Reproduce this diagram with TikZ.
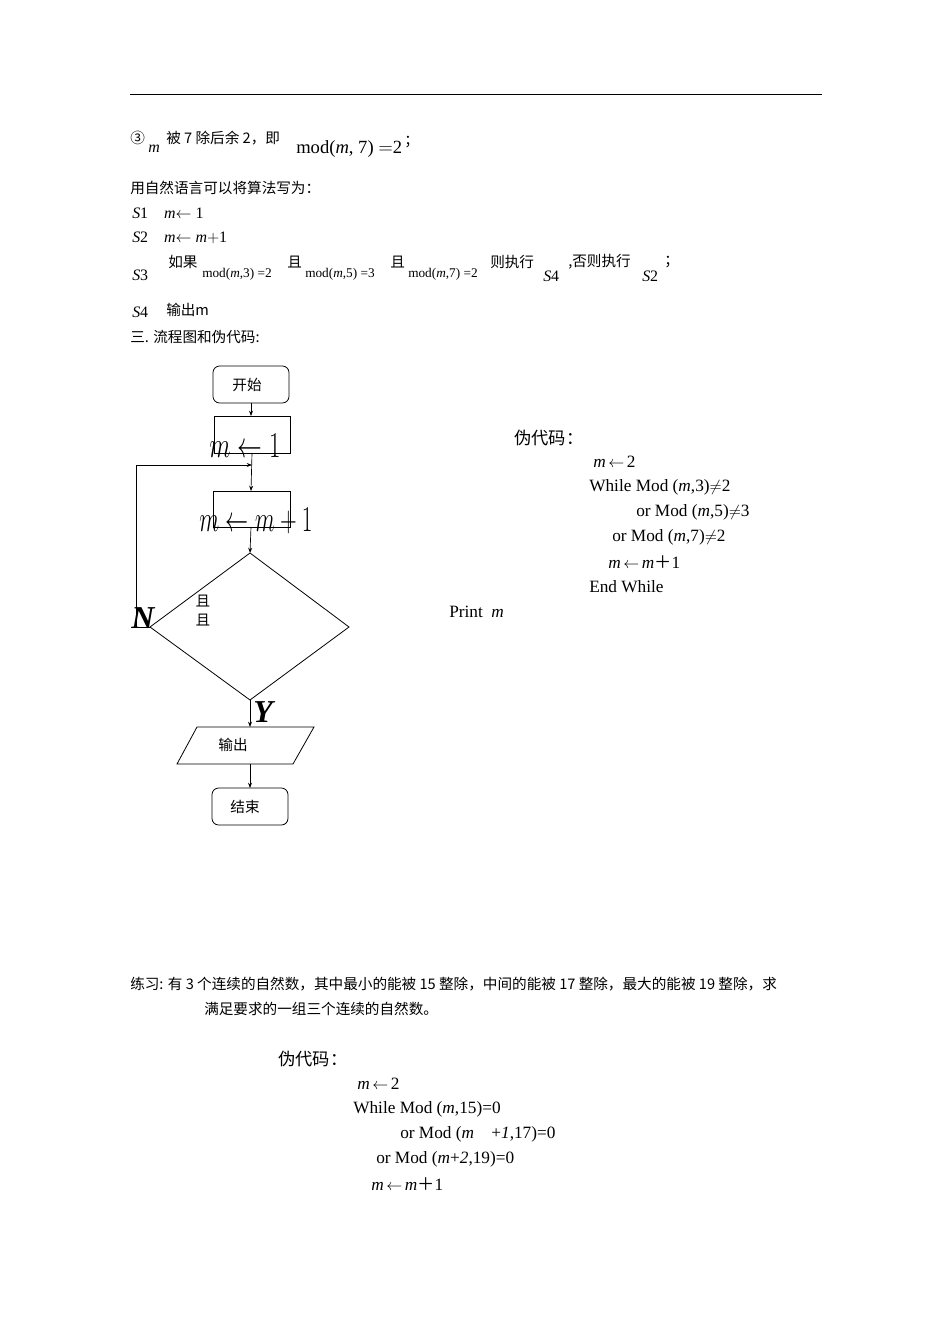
\documentclass[tikz,border=0pt]{standalone}
\usepackage{fontspec}
\setmainfont{Liberation Serif}
\newfontfamily\cjk{Noto Sans CJK SC}
\usetikzlibrary{shapes.geometric,arrows.meta}
\begin{document}
\begin{tikzpicture}[x=0.02646cm,y=-0.02646cm,
  t/.style={anchor=west,inner sep=0,font=\fontsize{12}{14}\selectfont},
  c/.style={anchor=west,inner sep=0,font=\cjk\fontsize{11}{13}\selectfont},
  box/.style={draw,line width=0.6pt},
  arr/.style={-{Stealth[length=4pt,width=3pt]},line width=0.5pt},
  big/.style={inner sep=0,font=\fontsize{24}{26}\selectfont\itshape}]
\useasboundingbox (0,0) rectangle (950,1344);
\draw[line width=0.6pt] (130,94) -- (822,94);
% top text
\node[c] (l1) at (130,138) {③};
\node[t] at (148,149) {\itshape m};
\node[c] at (166,138) {被 7 除后余 2，即};
\node[t,font=\fontsize{14}{16}\selectfont] at (296,149) {mod(\textit{m}, 7) $=$2};
\node[c] at (404,142) {；};
\node[c] at (130,188) {用自然语言可以将算法写为：};
\node[t] at (132,213) {\textit{S}1\quad \textit{m}$\leftarrow$ 1};
\node[t] at (132,238) {\textit{S}2\quad \textit{m}$\leftarrow$ \textit{m}$+$1};
\node[t] at (132,275) {\textit{S}3};
\node[c] at (168,262) {如果};
\node[t,font=\fontsize{10}{12}\selectfont] at (202,274) {mod(\textit{m},3) =2};
\node[c] at (287,262) {且};
\node[t,font=\fontsize{10}{12}\selectfont] at (305,274) {mod(\textit{m},5) =3};
\node[c] at (390,262) {且};
\node[t,font=\fontsize{10}{12}\selectfont] at (408,274) {mod(\textit{m},7) =2};
\node[c] at (490,262) {则执行};
\node[t] at (543,276) {\textit{S}4};
\node[c] at (568,262) {,否则执行};
\node[t] at (642,276) {\textit{S}2};
\node[c] at (664,262) {；};
\node[t] at (132,312) {\textit{S}4};
\node[c] at (166,310) {输出\textit{m}};
\node[c] at (130,337) {三. 流程图和伪代码:};
% flowchart
\draw[box,rounded corners=5pt] (213,366) rectangle (289,403);
\node[c,anchor=center] (start) at (247,385) {开始};
\coordinate (startb) at (251,403);
\draw[box] (214,416) rectangle (290,453);
\coordinate (b1t) at (251,416);
\coordinate (b1b) at (252,453);
\node[big,anchor=center] (m1) at (245,446) {\scalebox{0.75}[1.1]{$m\leftarrow1$}};
\draw[box] (213,491) rectangle (290,527);
\coordinate (b2t) at (251,491);
\coordinate (b2b) at (251,527);
\node[big,anchor=center] (m2) at (256,521) {\scalebox{0.7}[1.1]{$m\leftarrow m+1$}};
\coordinate (dt) at (250,553); \coordinate (dl) at (150,627);
\coordinate (dr) at (349,627); \coordinate (db) at (250,700);
\draw[line width=0.6pt] (dt)--(dr)--(db)--(dl)--cycle;
\node[c,anchor=center] (q1) at (203,601) {且};
\node[c,anchor=center] (q2) at (203,620) {且};
\node[big,font=\fontsize{24}{26}\selectfont\bfseries\itshape,anchor=center] (N) at (143,618) {N};
\node[big,font=\fontsize{24}{26}\selectfont\bfseries\itshape,anchor=center] (Y) at (263,712) {Y};
\draw[line width=0.6pt] (197,727) -- (314,727) -- (293,764) -- (177,764) -- cycle;
\node[c,anchor=center] (out) at (233,745) {输出};
\coordinate (pt) at (250,727); \coordinate (pb) at (250,764);
\draw[box,rounded corners=5pt] (212,788) rectangle (288,825);
\node[c,anchor=center] (end) at (245,807) {结束};
\coordinate (et) at (250,788);
\coordinate (j) at (252,465);
\coordinate (lc) at (136,465);
\coordinate (ll) at (136,627);
\draw[arr] (startb) -- (b1t);
\draw[arr] (b1b) -- (b2t);
\draw[arr] (b2b) -- (dt);
\draw[arr] (db) -- (pt);
\draw[arr] (pb) -- (et);
\draw[arr] (dl) -- (ll) -- (lc) -- (j);
% pseudocode
\node[c,font=\cjk\fontsize{13}{15}\selectfont] at (514,438) {伪代码：};
\node[t,font=\fontsize{13}{15}\selectfont] at (593,462) {\textit{m}$\,\leftarrow\,$2};
\node[t,font=\fontsize{13}{15}\selectfont] at (589,487) {While Mod (\textit{m},3)$\neq$2};
\node[t,font=\fontsize{13}{15}\selectfont] at (636,512) {or Mod (\textit{m},5)$\neq$3};
\node[t,font=\fontsize{13}{15}\selectfont] at (612,537) {or Mod (\textit{m},7)$\neq$2};
\node[t,font=\fontsize{13}{15}\selectfont] at (608,562) {\textit{m}$\,\leftarrow\,$\textit{m}{\cjk ＋}1};
\node[t,font=\fontsize{13}{15}\selectfont] at (589,587) {End While};
\node[t,font=\fontsize{13}{15}\selectfont] at (449,612) {Print\ \ \textit{m}};
% exercise
\node[c] at (130,984) {练习: 有 3 个连续的自然数，其中最小的能被 15 整除，中间的能被 17 整除，最大的能被 19 整除，求};
\node[c] at (204,1009) {满足要求的一组三个连续的自然数。};
\node[c,font=\cjk\fontsize{13}{15}\selectfont] at (278,1059) {伪代码：};
\node[t,font=\fontsize{13}{15}\selectfont] at (357,1084) {\textit{m}$\,\leftarrow\,$2};
\node[t,font=\fontsize{13}{15}\selectfont] at (353,1109) {While Mod (\textit{m},15)=0};
\node[t,font=\fontsize{13}{15}\selectfont] at (400,1134) {or Mod (\textit{m}\quad+\textit{1},17)=0};
\node[t,font=\fontsize{13}{15}\selectfont] at (376,1159) {or Mod (\textit{m}+\textit{2},19)=0};
\node[t,font=\fontsize{13}{15}\selectfont] at (371,1184) {\textit{m}$\,\leftarrow\,$\textit{m}{\cjk ＋}1};
\end{tikzpicture}
\end{document}
